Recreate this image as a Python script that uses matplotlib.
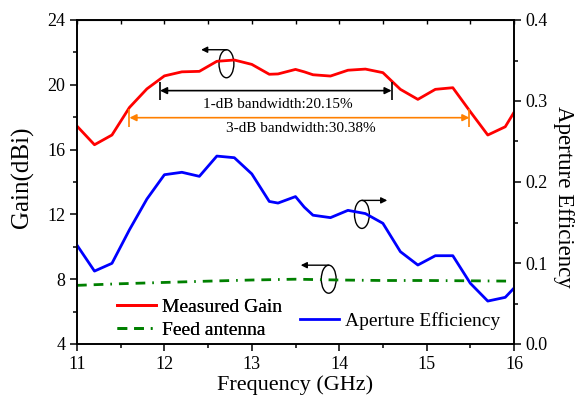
import numpy as np
import matplotlib
matplotlib.use("Agg")
import matplotlib.pyplot as plt
from matplotlib.patches import Ellipse
from matplotlib.ticker import MultipleLocator

plt.rcParams['font.family'] = ['Liberation Serif', 'DejaVu Serif']

# measured data
freq = [11.0, 11.2, 11.4, 11.6, 11.8, 12.0, 12.2, 12.4, 12.6, 12.8, 13.0, 13.2, 13.3, 13.5,
        13.6, 13.7, 13.9, 14.1, 14.3, 14.5, 14.7, 14.9, 15.1, 15.3, 15.5, 15.7, 15.9, 16.0]
gain = [17.45, 16.3, 16.9, 18.6, 19.75, 20.55, 20.8, 20.83, 21.45, 21.53, 21.26, 20.65, 20.67, 20.95,
        20.8, 20.62, 20.54, 20.9, 20.97, 20.75, 19.72, 19.1, 19.72, 19.82, 18.34, 16.9, 17.41, 18.3]
efficiency = [0.122, 0.090, 0.0996, 0.141, 0.179, 0.209, 0.212, 0.207, 0.232, 0.230, 0.210, 0.176, 0.174, 0.182,
              0.169, 0.159, 0.156, 0.165, 0.161, 0.149, 0.114, 0.0975, 0.109, 0.109, 0.075, 0.053, 0.0576, 0.069]
feed_freq = [11.0, 11.5, 12.0, 12.5, 13.0, 13.5, 14.0, 14.5, 15.0, 15.5, 16.0]
feed_gain = [7.62, 7.72, 7.8, 7.88, 7.95, 8.0, 7.95, 7.92, 7.92, 7.9, 7.88]

# bandwidth markers (start, stop, level)
bw1 = (11.95, 14.6, 19.64)
bw3 = (11.6, 15.49, 17.97)

fig = plt.figure(figsize=(5.77, 3.99), dpi=100)
ax = fig.add_axes([77/577, 1-344/399, 437/577, 324/399])
ax2 = ax.twinx()

l1, = ax.plot(freq, gain, color='#FF0000', lw=2, label='Measured Gain')
l2, = ax.plot(feed_freq, feed_gain, color='#008000', lw=2,
              dashes=(3.5, 2.5, 3.5, 2.5, 0.6, 2.5), label='Feed antenna')
l3, = ax2.plot(freq, efficiency, color='#0000FF', lw=2, label='Aperture Efficiency')

ax.set_xlim(11, 16)
ax.set_ylim(4, 24)
ax2.set_ylim(0, 0.4)
ax.xaxis.set_major_locator(MultipleLocator(1))
ax.xaxis.set_minor_locator(MultipleLocator(0.5))
ax.yaxis.set_major_locator(MultipleLocator(4))
ax.yaxis.set_minor_locator(MultipleLocator(2))
ax2.yaxis.set_major_locator(MultipleLocator(0.1))
ax2.yaxis.set_minor_locator(MultipleLocator(0.05))
ax2.yaxis.set_major_formatter(plt.FormatStrFormatter('%.1f'))

for a in (ax, ax2):
    a.tick_params(which='major', direction='out', length=5, width=1.1, labelsize=13)
    a.tick_params(which='minor', direction='out', length=3, width=1.1)
    for s in a.spines.values():
        s.set_linewidth(1.2)

top = ax.secondary_xaxis('top')
top.xaxis.set_major_locator(MultipleLocator(1))
top.xaxis.set_minor_locator(MultipleLocator(0.5))
top.tick_params(which='both', direction='in', length=3, width=1, labeltop=False)

ax.set_xlabel('Frequency (GHz)', fontsize=16, labelpad=2)
ax.set_ylabel('Gain(dBi)', fontsize=18)
ax.yaxis.set_label_coords(-0.098, 0.515)
ax2.set_ylabel('Aperture Efficiency', fontsize=16.5, rotation=270, va='bottom')
ax2.yaxis.set_label_coords(1.09, 0.455)

# bandwidth arrows
for (f1, f2, lvl), c, txt, ty in [(bw1, 'k', '1-dB bandwidth:20.15%', 18.78),
                                   (bw3, '#FF8000', '3-dB bandwidth:30.38%', 17.3)]:
    ax.annotate('', xy=(f1, lvl), xytext=(f2, lvl),
                arrowprops=dict(arrowstyle='<|-|>', color=c, lw=1.2,
                                shrinkA=0, shrinkB=0, mutation_scale=10))
    ax.vlines([f1, f2], lvl - 0.55, lvl + 0.55, color=c, lw=1.2)
    ax.text((f1 + f2) / 2 + 0.02, ty, txt, fontsize=11, ha='center', va='center')

# curve markers: ellipse with arrow pointing to the matching axis
for cx, cy, dx in [(12.71, 21.3, -0.29), (14.26, 12.0, 0.29), (13.88, 8.0, -0.32)]:
    ax.add_patch(Ellipse((cx, cy), 0.17, 1.73, fill=False, ec='k', lw=1))
    ax.annotate('', xy=(cx + dx, cy + 0.865), xytext=(cx, cy + 0.865),
                arrowprops=dict(arrowstyle='-|>', color='k', lw=1,
                                shrinkA=0, shrinkB=0, mutation_scale=9))

leg1 = ax.legend(handles=[l1, l2], loc='center left', frameon=False, fontsize=14,
                 bbox_to_anchor=(117/577, 1-318.7/399), bbox_transform=fig.transFigure,
                 borderpad=0, borderaxespad=0, handlelength=2.0, handletextpad=0.3,
                 labelspacing=0.3)
ax.add_artist(leg1)
ax2.legend(handles=[l3], loc='center left', frameon=False, fontsize=14,
           bbox_to_anchor=(300/577, 1-320.7/399), bbox_transform=fig.transFigure,
           borderpad=0, borderaxespad=0, handlelength=2.0, handletextpad=0.3)

fig.savefig('out.png', dpi=100)
